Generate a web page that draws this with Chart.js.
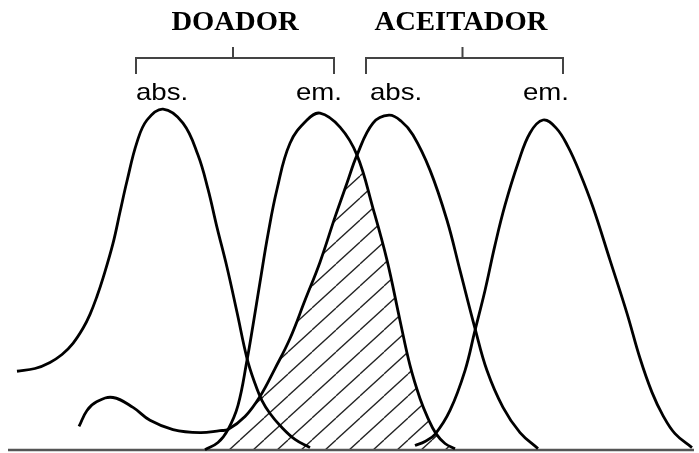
<!DOCTYPE html>
<html>
<head>
<meta charset="utf-8">
<script src="https://cdn.jsdelivr.net/npm/chart.js"></script>
<style>
  body { margin: 0; background: #fff; }
</style>
</head>
<body>
<canvas id="myChart" width="699" height="453"></canvas>
<script>
// puntos [posición (u.a.), intensidad (%)]
const donorAbs = [[17,23.1],[35,23.9],[50,25.7],[62,28.0],[73,31.3],[83,35.7],[90,39.8],[97,45.1],[103,50.4],[113,60.6],[120,69.8],[127,78.9],[137,90.3],[147,96.8],[163,100],[183,95.9],[198,86.5],[208,76.5],[217,65.3],[227,53.6],[237,40.4],[247,26.9],[255,19.5],[262,14.5],[270,10.7],[280,7.2],[295,3.1],[310,0.7]]
const donorEm = [[205,0.1],[218,2.2],[228,6.0],[238,13.1],[247,26.3],[253,36.6],[260,49.2],[268,63.3],[277,76.5],[290,90.0],[307,96.8],[320,98.8],[340,94.7],[357,86.5],[373,70.9],[387,55.7],[400,38.0],[410,24.8],[420,15.1],[428,9.3],[436,4.8],[445,1.9],[455,0.4]]
const acceptorAbs = [[79,6.9],[87,11.6],[97,14.2],[113,15.4],[133,12.5],[150,8.7],[173,6.0],[200,5.1],[220,5.7],[228,6.0],[245,9.8],[260,15.7],[275,23.9],[290,32.7],[305,43.9],[320,55.1],[335,68.3],[347,78.3],[357,86.5],[373,95.9],[389,98.2],[401,96.5],[413,92.4],[430,82.1],[447,67.4],[460,52.7],[475,35.7],[487,23.3],[503,12.5],[520,5.1],[538,0.4]]
const acceptorEm = [[415,1.3],[425,2.5],[435,4.6],[450,11.6],[465,23.3],[475,35.1],[485,46.8],[495,60.1],[505,71.8],[518,84.1],[530,93.0],[543,96.8],[556,94.5],[568,89.0],[580,81.2],[593,71.2],[610,55.7],[627,40.1],[640,26.9],[652,16.9],[663,10.1],[675,4.8],[692,0.7]]
const axisRange = [8, 694]

const groupTitles = ['DOADOR', 'ACEITADOR']
const titleX = [235, 461]
const brackets = [[136, 334], [366, 563]]
const curveLabels = ['abs.', 'em.', 'abs.', 'em.']
const labelX = [136, 342, 370, 569]
const labelAlign = ['left', 'right', 'left', 'right']

// solapamiento emisión del donador / absorción del aceptor
const crossLow = 228, crossTop = 357
const overlapLeft = donorEm.filter(([x]) => x < crossLow)
  .concat(acceptorAbs.filter(([x]) => x >= crossLow && x <= crossTop))
const overlapRight = donorEm.filter(([x]) => x >= crossTop)

const toPoints = arr => arr.map(([x, y]) => ({x, y}))

const makeHatch = () => {
  const tile = document.createElement('canvas')
  tile.width = 24
  tile.height = 22
  const c = tile.getContext('2d')
  c.strokeStyle = '#222'
  c.lineWidth = 1.3
  for (const dx of [-24, 0, 24]) {
    c.beginPath()
    c.moveTo(dx, 22)
    c.lineTo(dx + 24, 0)
    c.stroke()
  }
  return c.createPattern(tile, 'repeat')
}
const hatch = makeHatch()

const curve = (data) => ({
  data: toPoints(data),
  borderColor: '#000',
  borderWidth: 2.8,
  pointRadius: 0,
  tension: 0.4,
  fill: false,
  clip: false,
})

const overlap = (data) => ({
  data: toPoints(data),
  borderWidth: 0,
  borderColor: 'rgba(0,0,0,0)',
  backgroundColor: hatch,
  pointRadius: 0,
  tension: 0.4,
  fill: 'origin',
  clip: false,
})

const labelsPlugin = {
  id: 'labels',
  afterDraw(chart) {
    const {ctx, scales: {x}} = chart
    ctx.save()
    ctx.strokeStyle = '#444'
    ctx.lineWidth = 2
    ctx.fillStyle = '#000'
    brackets.forEach(([a, b], i) => {
      const x1 = x.getPixelForValue(a)
      const x2 = x.getPixelForValue(b)
      const xm = (x1 + x2) / 2 - 2
      ctx.beginPath()
      ctx.moveTo(x1, 74)
      ctx.lineTo(x1, 58)
      ctx.lineTo(x2, 58)
      ctx.lineTo(x2, 74)
      ctx.moveTo(xm, 47)
      ctx.lineTo(xm, 58)
      ctx.stroke()

      ctx.save()
      ctx.translate(x.getPixelForValue(titleX[i]), 30)
      ctx.scale(1.06, 1)
      ctx.font = 'bold 27px "Liberation Serif"'
      ctx.textAlign = 'center'
      ctx.fillText(groupTitles[i], 0, 0)
      ctx.restore()
    })
    curveLabels.forEach((txt, i) => {
      ctx.save()
      ctx.translate(x.getPixelForValue(labelX[i]), 100)
      ctx.scale(1.15, 1)
      ctx.font = '24px "Liberation Sans"'
      ctx.textAlign = labelAlign[i]
      ctx.fillText(txt, 0, 0)
      ctx.restore()
    })
    ctx.restore()
  }
}

const ctx = document.querySelector('#myChart')
new Chart(ctx, {
  type: 'line',
  data: {
    datasets: [
      curve(donorAbs),
      curve(donorEm),
      curve(acceptorAbs),
      curve(acceptorEm),
      {
        data: toPoints(axisRange.map(v => [v, 0])),
        borderColor: '#555',
        borderWidth: 2.5,
        pointRadius: 0,
        clip: false,
      },
      overlap(overlapLeft),
      overlap(overlapRight),
    ],
  },
  options: {
    responsive: false,
    animation: false,
    devicePixelRatio: 1,
    layout: { padding: { left: 0, right: 0, top: 0, bottom: 3 } },
    plugins: { legend: { display: false }, tooltip: { enabled: false } },
    scales: {
      x: { type: 'linear', min: 0, max: 699, display: false },
      y: { min: 0, max: 132, display: false },
    },
  },
  plugins: [labelsPlugin],
})
</script>
</body>
</html>
